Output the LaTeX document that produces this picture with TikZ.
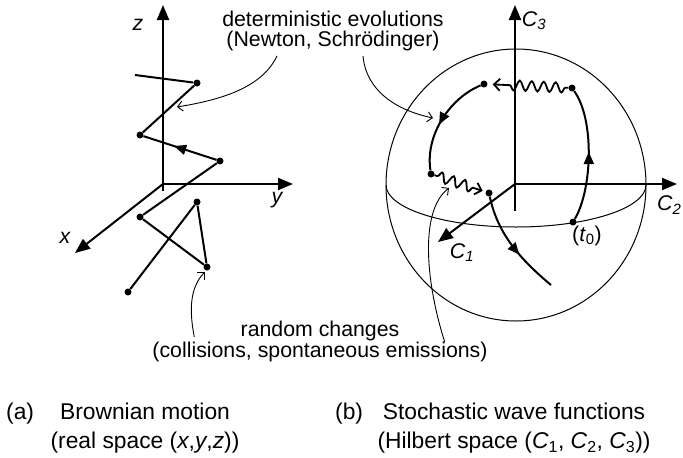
\documentclass[tikz,border=0pt]{standalone}
\usepackage{fontspec}
\setmainfont{Liberation Sans}
\usetikzlibrary{arrows.meta, positioning, decorations.pathmorphing, decorations.markings}

\begin{document}
\begin{tikzpicture}[
x=1pt, y=-1pt,
every node/.style={inner sep=0pt, align=center, font=\fontsize{21.3}{19.5}\selectfont},
caption/.style={font=\fontsize{22.8}{29}\selectfont},
dot/.style={circle, fill, minimum size=7pt},
axis/.style={-{Triangle[length=15pt, width=12pt]}, line width=2pt},
track/.style={line width=2pt},
shell/.style={line width=1pt},
note/.style={-{Straight Barb[length=5pt, width=10pt]}, line width=0.9pt},
jump/.style={line width=1.8pt, -{Straight Barb[length=6pt, width=12pt]},
  decorate, decoration={snake, amplitude=5pt, segment length=12pt, pre length=3pt, post length=#1}},
midarrow/.style={postaction={decorate}, decoration={markings,
  mark=at position #1 with {\arrow{Triangle[length=12pt, width=10pt]}}}}
]
\useasboundingbox (0,0) rectangle (683,458);

% (a) real space
\coordinate (o1) at (163,184);
\coordinate (ztip) at (163,5);
\coordinate (zbot) at (163,191);
\coordinate (ytip) at (293,184);
\coordinate (xtip) at (75,253);
\draw[axis] (zbot) -- (ztip);
\draw[axis] (o1) -- (ytip);
\draw[axis] (o1) -- (xtip);
\node (zlab) at (138,25) {\itshape z};
\node (ylab) at (277,200) {\itshape y};
\node (xlab) at (65,238) {\itshape x};

\coordinate (b0) at (135,75);
\node[dot] (b1) at (197,83) {};
\node[dot] (b2) at (140,135) {};
\node[dot] (b3) at (220,161) {};
\node[dot] (b4) at (140,217) {};
\node[dot] (b5) at (207,267) {};
\node[dot] (b6) at (197,202) {};
\node[dot] (b7) at (128,292) {};
\draw[track] (b7) -- (b6) -- (b5) -- (b4) -- (b3);
\draw[track, midarrow=.58] (b3) -- (b2);
\draw[track] (b2) -- (b1) -- (b0);

% (b) Hilbert space
\draw[shell] (516,185) ellipse [x radius=130pt, y radius=136pt];
\draw[shell] (386,185) arc [start angle=180, end angle=360, x radius=130pt, y radius=42pt];
\coordinate (o2) at (515,184);
\coordinate (c3tip) at (515,5);
\coordinate (c3bot) at (515,211);
\coordinate (c2tip) at (677,184);
\coordinate (c1tip) at (438,242);
\draw[axis] (c3bot) -- (c3tip);
\draw[axis] (o2) -- (c2tip);
\draw[axis] (o2) -- (c1tip);
\node (c3lab) at (534,21) {\itshape C\textsubscript{3}};
\node[anchor=west] (c2lab) at (657,205) {\itshape C\textsubscript{2}};
\node (c1lab) at (462,253) {\itshape C\textsubscript{1}};

\node[dot] (t0) at (573,222) {};
\node (t0lab) at (587,236) {(\textit{t}\textsubscript{0})};
\node[dot] (sa) at (572,88) {};
\node[dot] (sb) at (484,84) {};
\node[dot] (sc) at (431,174) {};
\node[dot] (sd) at (489,193) {};
\coordinate (se) at (551,285);
\draw[track, midarrow=.52] (t0) .. controls (592,190) and (595,120) .. (sa);
\draw[jump=22pt, shorten >=5pt] (sa) -- (sb);
\draw[track, midarrow=.55] (sb) .. controls (450,98) and (425,135) .. (sc);
\draw[jump=12pt, shorten >=3pt] (sc) -- (sd);
\draw[track, midarrow=.6] (sd) .. controls (497,230) and (515,255) .. (se);

% annotations
\node (detnote) at (333,31) {deterministic evolutions\\(Newton, Schrödinger)};
\node (randnote) at (320,341.5) {random changes\\(collisions, spontaneous emissions)};
\coordinate (detl) at (177,107);
\coordinate (detr) at (433,118);
\coordinate (randl) at (205,272);
\coordinate (randr) at (449,188);
\draw[note] ([xshift=-56pt, yshift=-5pt]detnote.south) .. controls (262,88) and (220,100) .. (detl);
\draw[note] ([xshift=30pt, yshift=-5pt]detnote.south) .. controls (366,90) and (395,110) .. (detr);
\draw[note] ([xshift=42pt, yshift=-16pt]randnote.north west) .. controls (188,305) and (192,285) .. (randl);
\draw[note] ([xshift=-43pt, yshift=-21pt]randnote.north east) .. controls (425,280) and (420,210) .. (randr);

% captions
\node[caption] (capa) at (145,428) {Brownian motion\\(real space (\textit{x},\textit{y},\textit{z}))};
\node[caption, anchor=base west] (taga) at (6,419) {(a)};
\node[caption] (capb) at (514,428) {Stochastic wave functions\\(Hilbert space (\textit{C}\textsubscript{1}, \textit{C}\textsubscript{2}, \textit{C}\textsubscript{3}))};
\node[caption, anchor=base west] (tagb) at (335,419) {(b)};

\end{tikzpicture}
\end{document}
